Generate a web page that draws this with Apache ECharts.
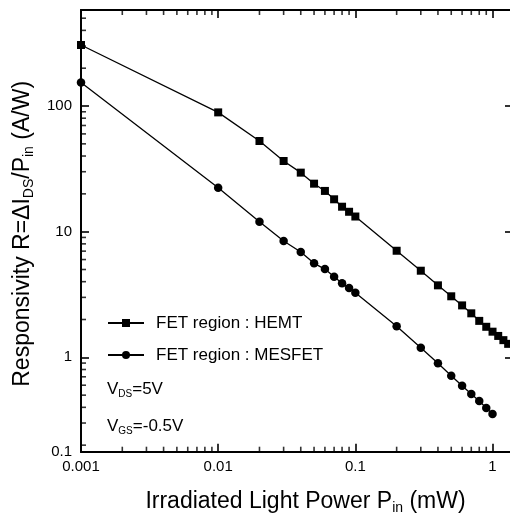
<!DOCTYPE html>
<html><head><meta charset="utf-8">
<script src="https://cdn.jsdelivr.net/npm/echarts@6/dist/echarts.min.js"></script>
<style>html,body{margin:0;padding:0;background:#fff}#c{width:510px;height:514px}</style>
</head><body><div id="c"></div>
<script>
// Irradiated light power P_in (mW)
const hemtPower = [0.001,0.01,0.02,0.03,0.04,0.05,0.06,0.07,0.08,0.09,0.1,0.2,0.3,0.4,0.5,0.6,0.7,0.8,0.9,1.0,1.1,1.2,1.3];
// Responsivity (A/W), HEMT
const hemtR = [306,89,52.7,36.5,29.5,24.1,21.1,18.1,15.8,14.4,13.2,7.05,4.89,3.74,3.06,2.59,2.24,1.95,1.75,1.60,1.48,1.37,1.28];
const mesfetPower = [0.001,0.01,0.02,0.03,0.04,0.05,0.06,0.07,0.08,0.09,0.1,0.2,0.3,0.4,0.5,0.6,0.7,0.8,0.9,1.0];
// Responsivity (A/W), MESFET
const mesfetR = [154,22.4,12.0,8.43,6.89,5.60,5.04,4.38,3.88,3.56,3.27,1.77,1.19,0.896,0.714,0.594,0.510,0.449,0.395,0.354];
const seriesNames = ['FET region : HEMT','FET region : MESFET'];
const xTickValues = [0.001, 0.01, 0.1, 1];
const xTickLabels = ['0.001','0.01','0.1','1'];
const yTickValues = [1, 10, 100];
const yTickLabels = ['1','10','100'];
const yMinLabel = '0.1';
const xRange = [0.001, 1.41];
const yRange = [0.1774, 581];
const minorMultipliers = [2,3,4,5,6,7,8,9];

const FONT = '"Liberation Sans", Arial, Helvetica, sans-serif';
const pair = (xs, ys) => xs.map((x, i) => [x, ys[i]]);
const near = (a, b) => Math.abs(Math.log10(a) - Math.log10(b)) < 1e-6;
const fmtX = v => { const i = xTickValues.findIndex(t => near(t, v)); return i >= 0 ? xTickLabels[i] : ''; };
const fmtY = v => { if (near(v, yRange[0])) return yMinLabel; const i = yTickValues.findIndex(t => near(t, v)); return i >= 0 ? yTickLabels[i] : ''; };
const minorValues = (range) => {
  const out = [];
  for (let d = Math.floor(Math.log10(range[0])); d <= Math.ceil(Math.log10(range[1])); d++) {
    minorMultipliers.forEach(k => { const v = k * Math.pow(10, d); if (v > range[0] && v < range[1]) out.push(v); });
  }
  return out;
};
const xMinor = minorValues(xRange), yMinor = minorValues(yRange);

const plainAxis = (extra) => Object.assign({
  type: 'log', logBase: 10,
  axisLine: { show: true, lineStyle: { color: '#000', width: 1.8 } },
  axisTick: { show: true, inside: true, length: 8, lineStyle: { color: '#000', width: 1.6 } },
  axisLabel: { show: false },
  splitLine: { show: false }
}, extra);
const tickSeries = (data, size, offset, xi, yi) => ({
  type: 'scatter', data, symbol: 'rect', symbolSize: size, symbolOffset: offset, silent: true, clip: false,
  xAxisIndex: xi, yAxisIndex: yi, itemStyle: { color: '#000' }, z: 10, tooltip: { show: false }
});
const MIN = 5, TW = 1.6;

const chart = echarts.init(document.getElementById('c'), null, { renderer: 'canvas' });
chart.setOption({
  backgroundColor: '#fff',
  animation: false,
  textStyle: { fontFamily: FONT, color: '#000' },
  grid: { left: 81, top: 10, right: -3, bottom: 62.3, containLabel: false, outerBoundsMode: 'none' },
  xAxis: [
    plainAxis({
      position: 'bottom', min: xRange[0], max: xRange[1], axisTick: { show: false },
      axisLabel: { show: true, formatter: fmtX, fontSize: 15, color: '#000', margin: 8, fontFamily: FONT, showMaxLabel: false },
      name: '{n|Irradiated Light Power P}{s|in}{n| (mW)}', nameLocation: 'middle', nameGap: 37,
      nameTextStyle: { padding: [0, 0, 0, 17], rich: {
        n: { fontSize: 23, color: '#000', fontFamily: FONT },
        s: { fontSize: 14, color: '#000', fontFamily: FONT, padding: [12, 0, 0, 0] } } }
    }),
    plainAxis({ position: 'top', min: xRange[0], max: xRange[1] }),
    plainAxis({ position: 'bottom', min: xRange[0], max: xRange[1] })
  ],
  yAxis: [
    plainAxis({
      position: 'left', min: yRange[0], max: yRange[1], axisTick: { show: false },
      axisLabel: { show: true, formatter: fmtY, fontSize: 15, color: '#000', margin: 9, fontFamily: FONT, showMaxLabel: false },
      name: '{n|Responsivity R=ΔI}{s|DS}{n|/P}{s|in}{n| (A/W)}', nameLocation: 'middle', nameGap: 39,
      nameTextStyle: { padding: [0, 6, 0, 0], rich: {
        n: { fontSize: 23, color: '#000', fontFamily: FONT },
        s: { fontSize: 14, color: '#000', fontFamily: FONT, padding: [12, 0, 0, 0] } } }
    }),
    plainAxis({ position: 'right', min: yRange[0], max: yRange[1] }),
    plainAxis({ position: 'left', min: yRange[0], max: yRange[1] })
  ],
  legend: {
    orient: 'vertical', left: 102, top: 308, itemWidth: 36, itemHeight: 10, itemGap: 12,
    textStyle: { fontSize: 17, color: '#000', fontFamily: FONT, lineHeight: 20, padding: [0, 0, 0, 7] },
    data: seriesNames
  },
  graphic: [
    { type: 'text', left: 107, top: 381, style: { text: '{n|V}{s|DS}{n|=5V}', rich: {
      n: { fontSize: 17, fill: '#000', fontFamily: FONT }, s: { fontSize: 10, fill: '#000', fontFamily: FONT, padding: [9, 0, 0, 0] } } } },
    { type: 'text', left: 107, top: 418, style: { text: '{n|V}{s|GS}{n|=-0.5V}', rich: {
      n: { fontSize: 17, fill: '#000', fontFamily: FONT }, s: { fontSize: 10, fill: '#000', fontFamily: FONT, padding: [9, 0, 0, 0] } } } }
  ],
  series: [
    { name: seriesNames[0], type: 'line', data: pair(hemtPower, hemtR), symbol: 'rect', symbolSize: 8,
      lineStyle: { color: '#000', width: 1.3 }, itemStyle: { color: '#000' }, showAllSymbol: true, clip: false },
    { name: seriesNames[1], type: 'line', data: pair(mesfetPower, mesfetR), symbol: 'circle', symbolSize: 8.5,
      lineStyle: { color: '#000', width: 1.3 }, itemStyle: { color: '#000' }, showAllSymbol: true, clip: false },
    // minor ticks (2..9 within each decade)
    tickSeries(xMinor.map(v => [v, yRange[0]]), [TW, MIN], [0, -MIN / 2], 2, 2),
    tickSeries(xMinor.map(v => [v, yRange[1]]), [TW, MIN], [0, MIN / 2], 1, 1),
    tickSeries(yMinor.map(v => [xRange[0], v]), [MIN, TW], [MIN / 2, 0], 2, 2)
  ]
});
</script></body></html>
